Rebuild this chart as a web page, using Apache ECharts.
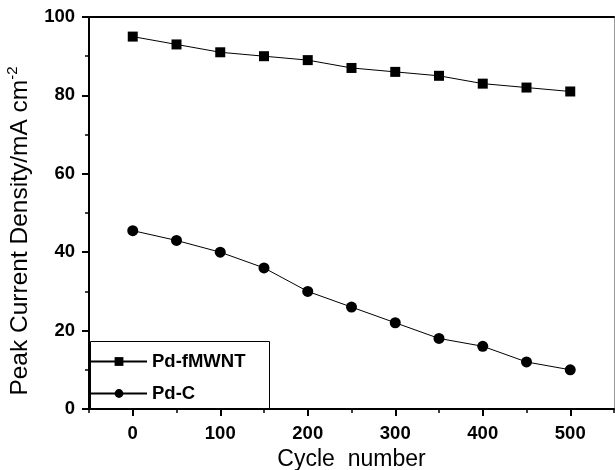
<!DOCTYPE html>
<html><head><meta charset="utf-8">
<script src="https://cdn.jsdelivr.net/npm/echarts@6/dist/echarts.min.js"></script>
<style>html,body{margin:0;padding:0;background:#fff}#c{width:615px;height:470px}</style>
</head><body><div id="c"></div>
<script>
const cycles = [0, 50, 100, 150, 200, 250, 300, 350, 400, 450, 500];
const pdFMWNT = [95, 93, 91, 90, 89, 87, 86, 85, 83, 82, 81];
const pdC = [45.5, 43, 40, 36, 30, 26, 22, 18, 16, 12, 10];
const xMajorTicks = [0, 100, 200, 300, 400, 500];
const xMinorTicks = [-50, 50, 150, 250, 350, 450, 550];
const seriesNames = ['Pd-fMWNT', 'Pd-C'];

const FONT = 'Liberation Sans, Arial, sans-serif';
const chart = echarts.init(document.getElementById('c'), null, {renderer: 'canvas'});
const black = '#000';
chart.setOption({
  animation: false,
  backgroundColor: '#fff',
  grid: {left: 89, top: 17, right: 1, bottom: 61, containLabel: false, outerBoundsMode: 'none'},
  xAxis: [
    {
      type: 'value', min: -50, max: 550, position: 'bottom',
      name: 'Cycle  number', nameLocation: 'middle', nameGap: 38,
      nameTextStyle: {fontFamily: FONT, fontSize: 23, color: black},
      axisLine: {onZero: false, lineStyle: {color: black, width: 2}},
      axisTick: {show: true, inside: false, length: 7, customValues: xMajorTicks, lineStyle: {color: black, width: 2}},
      axisLabel: {customValues: xMajorTicks, fontFamily: FONT, fontSize: 18.5, fontWeight: 'bold', color: black, margin: 15},
      splitLine: {show: false}
    },
    {
      type: 'value', min: -50, max: 550, position: 'bottom',
      axisLine: {show: false, onZero: false},
      axisTick: {show: true, inside: false, length: 4, customValues: xMinorTicks, lineStyle: {color: black, width: 1.5}},
      axisLabel: {show: false},
      splitLine: {show: false}
    },
    {
      type: 'value', min: -50, max: 550, position: 'top',
      axisLine: {show: true, onZero: false, lineStyle: {color: black, width: 2}},
      axisTick: {show: false}, axisLabel: {show: false}, splitLine: {show: false}
    }
  ],
  yAxis: [
    {
      type: 'value', min: 0, max: 100, interval: 20, position: 'left',
      name: 'Peak Current Density/mA cm{sup|-2}', nameLocation: 'middle', nameGap: 44,
      nameTextStyle: {fontFamily: FONT, fontSize: 24.5, color: black, padding: [0, 36, 0, 0],
        rich: {sup: {fontFamily: FONT, fontSize: 15, color: black, verticalAlign: 'top', lineHeight: 30}}},
      axisLine: {onZero: false, lineStyle: {color: black, width: 2}},
      axisTick: {show: true, inside: false, length: 7, lineStyle: {color: black, width: 2}},
      minorTick: {show: true, splitNumber: 2, length: 4, lineStyle: {color: black, width: 1.5}},
      axisLabel: {fontFamily: FONT, fontSize: 18.5, fontWeight: 'bold', color: black, margin: 14},
      splitLine: {show: false}
    },
    {
      type: 'value', min: 0, max: 100, position: 'right',
      axisLine: {show: true, onZero: false, lineStyle: {color: '#999', width: 1}},
      axisTick: {show: false}, axisLabel: {show: false}, splitLine: {show: false}
    }
  ],
  graphic: [{
    type: 'rect', z: 3, shape: {x: 90.5, y: 341.5, width: 179, height: 67},
    style: {fill: '#fff', stroke: '#000', lineWidth: 1}
  }],
  legend: {
    z: 10, left: 90, top: 352, orient: 'vertical', itemWidth: 56, itemHeight: 11, itemGap: 13, padding: 0,
    textStyle: {fontFamily: FONT, fontSize: 18.5, fontWeight: 'bold', color: black},
    data: seriesNames
  },
  series: [
    {
      name: seriesNames[0], type: 'line', xAxisIndex: 0, yAxisIndex: 0,
      data: cycles.map((c, i) => [c, pdFMWNT[i]]),
      symbol: 'rect', symbolSize: 10,
      lineStyle: {color: black, width: 1}, itemStyle: {color: black}
    },
    {
      name: seriesNames[1], type: 'line', xAxisIndex: 0, yAxisIndex: 0,
      data: cycles.map((c, i) => [c, pdC[i]]),
      symbol: 'circle', symbolSize: 11,
      lineStyle: {color: black, width: 1}, itemStyle: {color: black}
    }
  ]
});
</script></body></html>
